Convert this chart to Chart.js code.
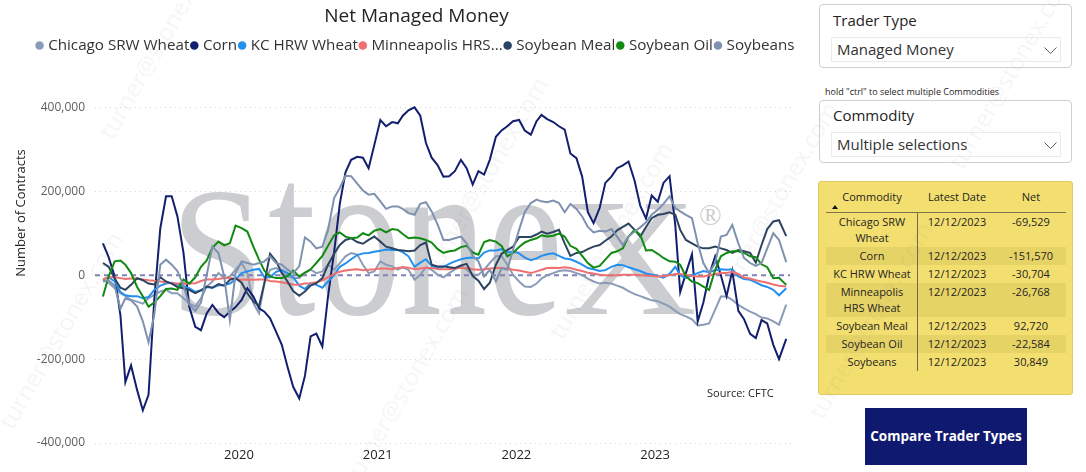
<!DOCTYPE html>
<html>
<head>
<meta charset="utf-8">
<title>Net Managed Money</title>
<script src="https://cdn.jsdelivr.net/npm/chart.js@4.4.1/dist/chart.umd.min.js"></script>
<style>
  body { margin: 0; width: 1086px; height: 472px; overflow: hidden; background: #fff;
         font-family: "Open Sans", sans-serif; color: #252423; position: relative; }
  #chartBox { position: absolute; left: 0; top: 0; width: 805px; height: 472px; }
  .axis-title { position: absolute; left: 20px; top: 213px; transform: translate(-50%, -50%) rotate(-90deg);
                font-size: 13px; white-space: nowrap; color: #252423; }
  .source { position: absolute; left: 707px; top: 384px; font-size: 11px; line-height: 18px; }
  .slicer { position: absolute; left: 819px; width: 253px; border: 1px solid #d2d0ce; border-radius: 4px;
            box-sizing: border-box; background: #fff; }
  .slicer .head { position: absolute; left: 13px; font-size: 15px; line-height: 20px; }
  .slicer .drop { position: absolute; left: 11px; right: 10px; height: 25px; border: 1px solid #edebe9;
                  box-sizing: border-box; font-size: 15px; line-height: 23px; padding-left: 5px; color: #333; }
  .slicer .drop svg { position: absolute; right: 3px; top: 9px; }
  .hint { position: absolute; left: 825px; top: 86px; font-size: 9px; line-height: 12px; }
  #tableBox { position: absolute; left: 818px; top: 181px; width: 255px; height: 214px; box-sizing: border-box;
              background: #f3df6f; border: 1px solid #dccb62; border-radius: 3px; }
  #tbl { position: absolute; left: 7px; top: 5px; width: 240px; font-size: 11px; color: #252423; }
  .hdr { display: flex; height: 25px; border-bottom: 1px solid #7d7447; position: relative; }
  .hdr div, .row div { text-align: center; }
  .hdr div { line-height: 20px; }
  .arrow { position: absolute; left: 6px; top: 18px; width: 0; height: 0; border-left: 3.5px solid transparent;
           border-right: 3.5px solid transparent; border-bottom: 4px solid #111; }
  .row { display: flex; }
  .row div { line-height: 16px; padding: 1px 0; }
  .row.band { background: #e6d366; }
  .c1 { width: 92px; box-sizing: border-box; }
  .row .c1 { border-right: 1px solid #6e6a50; padding-left: 6px; padding-right: 5px; }
  .c2 { width: 78px; }
  .c3 { width: 70px; }
  .btn { position: absolute; left: 865px; top: 408px; width: 162px; height: 57px; background: #0f1970;
         color: #fff; font-weight: 700; font-size: 13.5px; line-height: 57px; text-align: center; }
  .wm { position: absolute; transform: translate(-50%, -50%) rotate(-60deg); font-size: 24px;
        color: rgba(110, 110, 110, 0.07); white-space: nowrap; pointer-events: none; z-index: 5; }
</style>
</head>
<body>
<div id="chartBox"><canvas id="netChart" width="805" height="472"></canvas></div>
<div class="axis-title">Number of Contracts</div>
<div class="source">Source: CFTC</div>

<div class="slicer" style="top:4px;height:64px;">
  <div class="head" style="top:5px;">Trader Type</div>
  <div class="drop" style="top:32px;">Managed Money
    <svg width="13" height="8"><polyline points="0.5,0.5 6.5,6.5 12.5,0.5" fill="none" stroke="#605e5c" stroke-width="1"/></svg>
  </div>
</div>
<div class="hint">hold "ctrl" to select multiple Commodities</div>
<div class="slicer" style="top:100px;height:63px;">
  <div class="head" style="top:4px;">Commodity</div>
  <div class="drop" style="top:31px;">Multiple selections
    <svg width="13" height="8"><polyline points="0.5,0.5 6.5,6.5 12.5,0.5" fill="none" stroke="#605e5c" stroke-width="1"/></svg>
  </div>
</div>

<div id="tableBox"><div id="tbl"></div></div>
<div class="btn">Compare Trader Types</div>

<div class="wm" style="left:60px;top:330px;">turner@stonex.com</div>
<div class="wm" style="left:160px;top:40px;">turner@stonex.com</div>
<div class="wm" style="left:405px;top:385px;">turner@stonex.com</div>
<div class="wm" style="left:485px;top:175px;">turner@stonex.com</div>
<div class="wm" style="left:610px;top:240px;">turner@stonex.com</div>
<div class="wm" style="left:775px;top:200px;">turner@stonex.com</div>
<div class="wm" style="left:870px;top:320px;">turner@stonex.com</div>
<div class="wm" style="left:1010px;top:70px;">turner@stonex.com</div>

<script>
// Net managed-money positions, thousands of contracts, one value per report date below
const chicagoSrwK = [
  -10, -18, -31, -43, -49, -59, -63, -68, -55, -47,  -39, -35, -43, -43, -55, -67, -75, -55, -27, -15,
  5, -7, -3, 13, 29, 5, -67, -91, -19, 13,  17, 9, -3, -7, -7, 5, 13, 5, 9, 25,
  13, 29, 45, 53, 49, 25, 5, 9, 33, 25,  21, 13, 19, 13, -11, 1, 19, 13, 1, -5,
  5, 14, 22, 13, 1, 1, 13, 29, 45, 46,  25, 1, -15, -27, -28, -20, -8, 0, 5, 10,
  12, 10, 5, 0, -8, -15, -20, -18, -20, -25,  -30, -38, -45, -50, -55, -60, -62, -68, -75, -85,
  -93, -98, -105, -120, -118, -115, -82, -51, -51, -59,  -71, -79, -87, -93, -101, -103, -110, -118, -70
];
const cornK = [
  76, 43, -3, -95, -255, -215, -274, -322, -285, -60,  112, 188, 188, 140, 53, -75, -123, -131, -91, -71,
  -90, -100, -87, -76, -59, -31, -51, -79, -87, -103,  -135, -166, -218, -266, -294, -240, -146, -139, -170, -50,
  55, 170, 245, 275, 282, 280, 255, 310, 370, 355,  365, 362, 380, 393, 400, 380, 315, 280, 262, 235,
  236, 248, 275, 255, 216, 248, 240, 275, 330, 345,  355, 367, 370, 345, 335, 367, 382, 372, 365, 355,
  347, 290, 279, 235, 150, 124, 160, 220, 235, 255,  262, 271, 225, 165, 135, 190, 175, 220, 236, 120,
  -40, 5, 50, -110, -65, 0, 45, 0, -50, 10,  -85, -105, -140, -150, -107, -115, -166, -200, -152
];
const kcHrwK = [
  -10, -5, -15, -40, -48, -50, -50, -55, -52, -35,  -25, -20, -18, -22, -27, -31, -40, -36, -28, -30,
  -24, -24, -20, -10, 5, 9, 13, 15, -5, -5,  8, 12, 5, -5, -25, -33, -19, -23, -30, -15,
  0, 20, 28, 38, 48, 52, 53, 56, 58, 61,  60, 60, 55, 45, 20, 30, 38, 22, 17, 20,
  27, 33, 38, 41, 42, 40, 54, 59, 59, 62,  54, 57, 52, 42, 36, 40, 46, 50, 52, 46,
  40, 38, 32, 25, 17, 14, 10, 12, 20, 25,  24, 19, 14, 10, 4, 1, -2, -6, 3, 20,
  0, -7, 0, 5, 10, 7, 12, 14, 13, 14,  -3, -9, -11, -17, -24, -28, -35, -48, -31
];
const minneapolisK = [
  -10, -5, -5, -7, -9, -8, -8, -10, -12, -13,  -15, -17, -19, -20, -19, -20, -19, -14, -10, -10,
  -9, -7, -7, -9, -11, -10, -11, -10, -10, -14,  -15, -17, -20, -22, -23, -20, -19, -17, -12, -5,
  3, 8, 11, 13, 14, 12, 13, 14, 16, 16,  14, 17, 19, 18, 14, 16, 18, 17, 15, 14,
  14, 16, 17, 17, 14, 13, 14, 16, 17, 17,  16, 13, 11, 8, 5, 9, 13, 17, 18, 17,
  19, 17, 13, 10, 6, 4, 1, 0, -1, 0,  1, 1, 1, 0, -1, -2, -3, -2, 0, 3,
  3, 1, -2, -3, -3, 0, 3, 5, 5, 8,  3, -6, -8, -12, -15, -18, -22, -25, -27
];
const soyMealK = [
  29, 20, -8, -30, -35, -23, -7, -12, -20, -22,  -5, -15, -20, -28, -31, -35, -43, -36, -27, -30,
  -21, -25, -11, -7, -18, -43, -63, -73, -19, 51,  33, 5, -15, -38, -49, -39, -25, -19, -7, 25,
  51, 72, 84, 88, 79, 75, 84, 92, 80, 68,  64, 60, 59, 57, 59, 72, 78, 25, 21, 21,
  19, 17, 23, 27, -2, -13, -33, -18, 25, 51,  60, 68, 91, 91, 91, 97, 104, 99, 103, 108,
  76, 46, 53, 55, 62, 68, 72, 82, 92, 107,  115, 123, 108, 92, 115, 136, 144, 146, 150, 144,
  108, 84, 76, 68, 64, 64, 68, 64, 60, 53,  60, 57, 53, 30, 72, 110, 128, 131, 93
];
const soyOilK = [
  -51, -3, 33, 35, 25, 5, -28, -50, -75, -65,  -50, -33, -32, -35, -10, -20, -5, 20, 35, 65,
  80, 71, 76, 118, 112, 104, 68, 37, 11, -3,  -7, -7, -2, 11, -3, 6, 14, 29, 46, 70,
  95, 102, 92, 88, 90, 100, 95, 106, 110, 102,  110, 108, 98, 88, 90, 88, 84, 78, 62, 53,
  57, 59, 67, 70, 54, 49, 79, 84, 80, 70,  45, 53, 67, 78, 84, 88, 95, 92, 94, 99,
  92, 70, 63, 46, 29, 18, 22, 37, 53, 57,  64, 92, 108, 96, 59, 60, 51, 41, 33, 32,
  25, -3, -15, -19, -27, -35, 13, 45, 53, 57,  57, 53, 45, 43, 26, 19, -7, -6, -23
];
const soybeansK = [
  -15, -12, -25, -80, -55, -60, -75, -110, -160, -95,  25, 37, 25, 10, -25, -70, -85, -65, 0, 68,
  53, -3, -107, 5, 33, 29, 25, 29, 33, 45,  29, 25, 13, 5, 21, 90, 80, 64, 68, 108,
  184, 208, 237, 236, 218, 202, 192, 194, 176, 158,  164, 164, 158, 148, 144, 170, 174, 152, 120, 84,
  84, 88, 92, 76, 46, 33, -3, 13, -15, 17,  13, 60, 108, 150, 172, 180, 176, 174, 178, 172,
  150, 170, 158, 140, 115, 102, 106, 104, 110, 92,  72, 92, 104, 114, 126, 144, 156, 170, 188, 160,
  152, 144, 136, 76, 29, 5, 29, 92, 96, 120,  76, 41, 29, 22, 29, 64, 100, 84, 31
];

const seriesNames = ["Chicago SRW Wheat", "Corn", "KC HRW Wheat", "Minneapolis HRS Wheat",
                     "Soybean Meal", "Soybean Oil", "Soybeans"];
const seriesValues = [chicagoSrwK, cornK, kcHrwK, minneapolisK, soyMealK, soyOilK, soybeansK];
const seriesColors = ["#8b9bb8", "#121f6e", "#2390f0", "#f07070", "#2c4460", "#118a11", "#7e91af"];

// report dates: the 8th and 23rd of each month, then the latest report
const reportDates = [];
for (let i = 0; i < 118; i++) {
  const y = 2019 + Math.floor(i / 24), m = Math.floor(i / 2) % 12 + 1, d = i % 2 ? 23 : 8;
  reportDates.push(`${y}-${String(m).padStart(2, "0")}-${String(d).padStart(2, "0")}`);
}
reportDates.push("2023-12-12");

const yearTicks = [2020, 2021, 2022, 2023];
const contractTicks = [-400000, -200000, 0, 200000, 400000];

const tableCommodities = seriesNames;
const tableDates = ["12/12/2023", "12/12/2023", "12/12/2023", "12/12/2023", "12/12/2023", "12/12/2023", "12/12/2023"];
const tableNets = [-69529, -151570, -30704, -26768, 92720, -22584, 30849];

function toYear(s) {
  const [y, m, d] = s.split("-").map(Number);
  const t0 = Date.UTC(y, 0, 1), t1 = Date.UTC(y + 1, 0, 1);
  return y + (Date.UTC(y, m - 1, d) - t0) / (t1 - t0);
}
const reportYears = reportDates.map(toYear);

document.getElementById("tbl").innerHTML =
  `<div class="hdr"><div class="c1">Commodity</div><div class="c2">Latest Date</div><div class="c3">Net</div><span class="arrow"></span></div>` +
  tableCommodities.map((name, i) => `
    <div class="row${i % 2 ? " band" : ""}">
      <div class="c1">${name}</div><div class="c2">${tableDates[i]}</div><div class="c3">${tableNets[i].toLocaleString("en-US")}</div>
    </div>`).join("");

Chart.defaults.font.family = '"Open Sans", sans-serif';

// big grey StoneX mark behind the lines; the logo's lowercase is nearly cap height,
// so each piece gets its own size and is squeezed to the width it has in the picture
const stonexMark = {
  id: "stonexMark",
  beforeDatasetsDraw(chart) {
    const { ctx, chartArea } = chart;
    const base = chartArea.top + 228;
    const pieces = [
      { text: "S", size: 184, from: 75, to: 170 },
      { text: "tone", size: 232, from: 173, to: 468 },
      { text: "X", size: 168, from: 468, to: 602 },
    ];
    ctx.save();
    ctx.fillStyle = "#cbcdd0";
    ctx.textAlign = "left";
    ctx.textBaseline = "alphabetic";
    for (const p of pieces) {
      ctx.font = `${p.size}px "Liberation Serif", "DejaVu Serif", serif`;
      const w = ctx.measureText(p.text).width;
      ctx.save();
      ctx.translate(chartArea.left + p.from, base);
      ctx.scale((p.to - p.from) / w, 1);
      ctx.fillText(p.text, 0, 0);
      ctx.restore();
    }
    ctx.font = '30px "Liberation Serif", serif';
    ctx.fillText("\u00AE", chartArea.left + 604, chartArea.top + 139);
    ctx.restore();
  }
};

const zeroLine = {
  id: "zeroLine",
  beforeDatasetsDraw(chart) {
    const { ctx, chartArea, scales } = chart;
    const py = scales.y.getPixelForValue(0);
    ctx.save();
    ctx.strokeStyle = "#7f82b8";
    ctx.lineWidth = 2;
    ctx.setLineDash([5, 4]);
    ctx.beginPath();
    ctx.moveTo(chartArea.left, py);
    ctx.lineTo(chartArea.right - 3, py);
    ctx.stroke();
    ctx.restore();
  }
};

// title and legend sit centred over the whole visual, a little right of the canvas middle
const headerShift = {
  id: "headerShift",
  afterLayout(chart) {
    for (const box of [chart.titleBlock, chart.legend]) {
      if (box) { box.left += 20; box.right += 20; }
    }
  }
};

const shortLabel = t => t.length > 18 ? t.slice(0, 15) + "..." : t;

new Chart(document.getElementById("netChart"), {
  type: "line",
  data: {
    datasets: seriesNames.map((name, i) => ({
      label: name,
      data: seriesValues[i].map((v, j) => ({ x: reportYears[j], y: v * 1000 })),
      borderColor: seriesColors[i],
      backgroundColor: seriesColors[i],
      borderWidth: 2,
      pointRadius: 0,
      tension: 0,
      order: seriesNames.length - i,
    })),
  },
  options: {
    responsive: false,
    animation: false,
    events: [],
    layout: { padding: { left: 0, right: 12, top: 0, bottom: 0 } },
    plugins: {
      tooltip: { enabled: false },
      title: {
        display: true, text: "Net Managed Money", color: "#252423",
        font: { size: 19, weight: "normal" }, padding: { top: 5, bottom: 6 },
      },
      subtitle: { display: true, text: "", weight: 500, font: { size: 10 }, padding: { top: 11.4, bottom: 0 } },
      legend: {
        position: "top",
        labels: {
          usePointStyle: true, pointStyle: "circle", boxWidth: 2, boxHeight: 6, padding: 4,
          color: "#333", font: { size: 15.2 },
          sort: (a, b) => a.datasetIndex - b.datasetIndex,
          generateLabels: chart => Chart.defaults.plugins.legend.labels.generateLabels(chart)
            .map(item => ({ ...item, text: shortLabel(item.text), lineWidth: 0 })),
        },
      },
    },
    scales: {
      x: {
        type: "linear", min: 2018.962, max: 2023.994,
        afterBuildTicks: s => { s.ticks = yearTicks.map(v => ({ value: v })); },
        afterFit: s => { s.height = 29; },
        ticks: { callback: v => String(v), color: "#252423", font: { size: 13 }, padding: 4, maxRotation: 0, autoSkip: false },
        grid: { display: false, drawTicks: false },
        border: { display: false },
      },
      y: {
        min: -400000, max: 450000,
        afterBuildTicks: s => { s.ticks = contractTicks.map(v => ({ value: v })); },
        afterFit: s => { s.width = 95; },
        ticks: { callback: v => v.toLocaleString("en-US"), color: "#605e5c", font: { size: 12 }, padding: 10 },
        grid: { color: c => c.tick && c.tick.value === 0 ? "rgba(0,0,0,0)" : "#d4d4d4", drawTicks: false },
        border: { display: false, dash: [1, 4] },
      },
    },
  },
  plugins: [stonexMark, zeroLine, headerShift],
});
</script>
</body>
</html>
